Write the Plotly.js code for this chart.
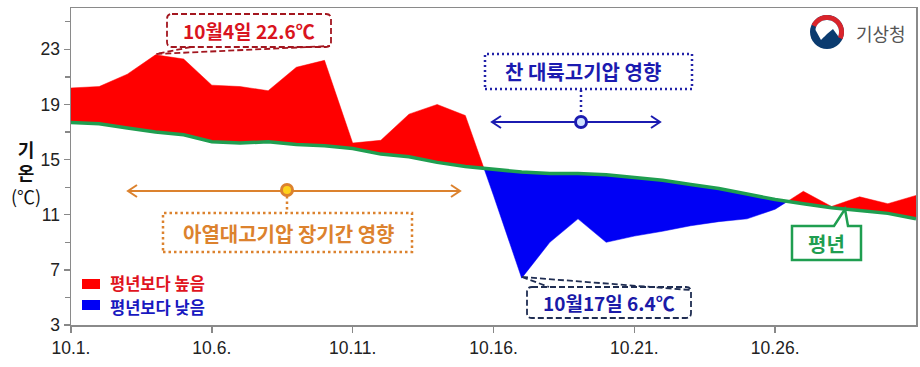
<!DOCTYPE html>
<html><head><meta charset="utf-8">
<script src="https://cdn.plot.ly/plotly-3.0.1.min.js"></script>
<style>html,body{margin:0;padding:0;background:#fff}</style>
</head><body><div id="chart" style="width:920px;height:367px"></div>
<script>
// ---- data ----
const days = [1,2,3,4,5,6,7,8,9,10,11,12,13,14,15,16,17,18,19,20,21,22,23,24,25,26,27,28,29,30,31];
const actualTemp = [20.2,20.3,21.2,22.6,22.3,20.4,20.3,20.0,21.7,22.2,16.2,16.4,18.3,19.0,18.2,12.4,6.4,9.0,10.7,9.0,9.45,9.8,10.2,10.5,10.7,11.4,12.7,11.6,12.3,11.8,12.4];
const normalTemp = [17.7,17.6,17.3,17.0,16.8,16.3,16.2,16.3,16.1,16.0,15.8,15.4,15.2,14.8,14.5,14.3,14.1,14.0,14.0,13.9,13.7,13.5,13.2,12.9,12.5,12.1,11.8,11.5,11.3,11.1,10.7];
const xTickVals = [1,6,11,16,21,26];
const xTickText = ['10.1.','10.6.','10.11.','10.16.','10.21.','10.26.'];
const yTickVals = [3,7,11,15,19,23];
const yMinorVals = [5,9,13,17,21,25];
const legendLabels = ['평년보다 높음','평년보다 낮음'];

// ---- fill split (insert crossing points so red/blue areas meet on the normal line) ----
function splitFill(xs, a, n){
  const X=[], up=[], lo=[], base=[];
  for(let i=0;i<xs.length;i++){
    if(i>0){
      const d0=a[i-1]-n[i-1], d1=a[i]-n[i];
      if(d0*d1<0){
        const t=d0/(d0-d1);
        const xc=xs[i-1]+t*(xs[i]-xs[i-1]);
        const yc=n[i-1]+t*(n[i]-n[i-1]);
        X.push(xc); up.push(yc); lo.push(yc); base.push(yc);
      }
    }
    X.push(xs[i]); up.push(Math.max(a[i],n[i])); lo.push(Math.min(a[i],n[i])); base.push(n[i]);
  }
  return {X,up,lo,base};
}
const f = splitFill(days, actualTemp, normalTemp);
const RED='#ff0000', BLUE='#0000f5', GREEN='#1f9e50';

const traces = [
  {x:f.X, y:f.base, mode:'lines', line:{width:0}, hoverinfo:'skip', showlegend:false},
  {x:f.X, y:f.up, mode:'lines', line:{width:0.5,color:RED}, fill:'tonexty', fillcolor:RED, hoverinfo:'skip', showlegend:false},
  {x:f.X, y:f.base, mode:'lines', line:{width:0}, hoverinfo:'skip', showlegend:false},
  {x:f.X, y:f.lo, mode:'lines', line:{width:0.5,color:BLUE}, fill:'tonexty', fillcolor:BLUE, hoverinfo:'skip', showlegend:false},
  {x:days, y:normalTemp, mode:'lines', line:{width:3.5,color:GREEN}, hoverinfo:'skip', showlegend:false}
];

// ---- pixel -> paper helpers (for decorations only) ----
const L=71, R=916, T=8, B=325;
const xp = px => (px-L)/(R-L);
const yp = py => 1-(py-T)/(B-T);
function pathPx(cmds){
  return cmds.map(c=>{
    const out=[c[0]];
    for(let i=1;i<c.length;i+=2){ out.push(xp(c[i]).toFixed(5)+','+yp(c[i+1]).toFixed(5)); }
    return out.join(' ');
  }).join(' ');
}
function roundRect(x0,y0,x1,y1,r){
  return pathPx([['M',x0+r,y0],['L',x1-r,y0],['Q',x1,y0,x1,y0+r],['L',x1,y1-r],['Q',x1,y1,x1-r,y1],
    ['L',x0+r,y1],['Q',x0,y1,x0,y1-r],['L',x0,y0+r],['Q',x0,y0,x0+r,y0]])+' Z';
}
function arcPts(cx,cy,r,a0,a1,n){
  const pts=[];
  for(let i=0;i<=n;i++){ const a=(a0+(a1-a0)*i/n)*Math.PI/180; pts.push([cx+r*Math.cos(a), cy+r*Math.sin(a)]); }
  return pts;
}
function polyPath(pts){ return pathPx(pts.map((p,i)=>[i?'L':'M',p[0],p[1]]))+' Z'; }
const P = (path, color, width, dash, fill) => ({type:'path', xref:'paper', yref:'paper', path, line:{color, width, dash:dash||'solid'}, fillcolor:fill||'rgba(0,0,0,0)', layer:'above'});
const rect = (x0,y0,x1,y1,color,width,dash,fill) => ({type:'rect', xref:'paper', yref:'paper', x0:xp(x0), x1:xp(x1), y0:yp(y1), y1:yp(y0), line:{color,width,dash:dash||'solid'}, fillcolor:fill||'rgba(0,0,0,0)', layer:'above'});
const circ = (cx,cy,r,color,width,fill) => ({type:'circle', xref:'paper', yref:'paper', x0:xp(cx-r), x1:xp(cx+r), y0:yp(cy+r), y1:yp(cy-r), line:{color,width}, fillcolor:fill, layer:'above'});
const ann = (px,py,text,color,size,extra) => Object.assign({xref:'paper', yref:'paper', x:xp(px), y:yp(py), text, showarrow:false, xanchor:'center', yanchor:'middle', font:{family:'Noto Sans CJK KR, sans-serif', size, color}}, extra||{});

// logo geometry
const LX=827, LY=32;
const redRing = arcPts(LX,LY,17,-155,25,30).concat(arcPts(LX,LY,12,25,-155,30));
function sCurve(){
  const pts=[]; const ctrl=[[11,4],[6,-3],[0,2],[-6,8],[-11.5,-2]];
  for(let i=0;i<=20;i++){ const k=i/20*4; const j=Math.min(3,Math.floor(k)); const u=k-j;
    const a=ctrl[j], b=ctrl[j+1]; pts.push([LX+a[0]+(b[0]-a[0])*u, LY+a[1]+(b[1]-a[1])*u]); }
  return pts;
}
const whiteTop = arcPts(LX,LY,12,-160,22,30).concat(sCurve());

const ORANGE='#dc822e', NAVYB='#1b1bb0';
const shapes = [
  P(roundRect(167,14,331,47,5), '#a3161f', 1.8, '6px,3px', '#ffffff'),
  P(pathPx([['M',191,47],['L',156,54],['L',330,46]]), '#a3161f', 1.8, '6px,3px'),
  rect(485,54,692,89, '#2222a8', 2.5, '2px,3px', '#ffffff'),
  P(pathPx([['M',581,90],['L',581,115]]), '#2222a8', 2.5, '2px,3px'),
  P(pathPx([['M',492,122],['L',660,122]]), NAVYB, 2),
  P(pathPx([['M',501,116],['L',492,122],['L',501,128]]), NAVYB, 2),
  P(pathPx([['M',651,116],['L',660,122],['L',651,128]]), NAVYB, 2),
  circ(581,122,5.5, NAVYB, 3, '#cfe2ff'),
  rect(163,213,412,252, ORANGE, 2.5, '2.5px,3px', '#ffffff'),
  P(pathPx([['M',287,196],['L',287,213]]), ORANGE, 2.5, '2.5px,3px'),
  P(pathPx([['M',128,191],['L',460,191]]), ORANGE, 2),
  P(pathPx([['M',137,185],['L',128,191],['L',137,197]]), ORANGE, 2),
  P(pathPx([['M',451,185],['L',460,191],['L',451,197]]), ORANGE, 2),
  circ(287,190,5.5, ORANGE, 3, '#ffd21a'),
  P(roundRect(527,287,691,318,5), '#1f2d52', 1.8, '6px,3px', '#ffffff'),
  P(pathPx([['M',522,277],['L',549,287]]), '#1f2d52', 1.8, '6px,3px'),
  P(pathPx([['M',522,277],['L',690,290]]), '#1f2d52', 1.8, '6px,3px'),
  P(pathPx([['M',792,226],['L',834,226],['L',845,209],['L',848,226],['L',861,226],['L',861,260],['L',792,260]])+' Z', GREEN, 2.5, 'solid', '#ffffff'),
  rect(82,279,100,289, RED, 0, 'solid', RED),
  rect(82,300,100,310, BLUE, 0, 'solid', BLUE),
  circ(LX,LY,17, '#0b3b6f', 0, '#0b3b6f'),
  P(polyPath(redRing), '#d9242b', 0, 'solid', '#d9242b'),
  P(polyPath(whiteTop), '#ffffff', 0, 'solid', '#ffffff')
];

const annotations = [
  ann(249,31,'<b>10월4일 22.6℃</b>','#d9141e',19),
  ann(583,72,'<b>찬 대륙고기압 영향</b>',NAVYB,20),
  ann(288,233,'<b>아열대고기압 장기간 영향</b>',ORANGE,20),
  ann(609,302,'<b>10월17일 6.4℃</b>','#1a1aa8',19),
  ann(826,243,'<b>평년</b>',GREEN,20),
  ann(108,283,'<b>'+legendLabels[0]+'</b>','#e0141e',16.5,{xanchor:'left'}),
  ann(108,306.5,'<b>'+legendLabels[1]+'</b>','#1818c0',16.5,{xanchor:'left'}),
  ann(26,172,'<b>기<br>온</b><br>(℃)','#111',18),
  ann(881,33,'기상청','#555',18)
];

const layout = {
  width:920, height:367,
  margin:{l:L, r:920-R, t:T, b:367-B},
  paper_bgcolor:'#ffffff', plot_bgcolor:'#ffffff',
  showlegend:false,
  font:{family:'Liberation Sans, Arial, sans-serif', size:17, color:'#222'},
  xaxis:{range:[1,31], tickmode:'array', tickvals:xTickVals, ticktext:xTickText,
    ticks:'outside', ticklen:6, tickwidth:1.5, tickcolor:'#888', showline:true, linecolor:'#8a8a8a', linewidth:1.5,
    mirror:true, showgrid:false, zeroline:false, tickfont:{size:17.5, color:'#222'}},
  yaxis:{range:[3,26], tickmode:'array', tickvals:yTickVals, ticks:'outside', ticklen:6, tickwidth:1.5, tickcolor:'#888',
    minor:{tickmode:'array', tickvals:yMinorVals, ticks:'outside', ticklen:5, tickwidth:1.2, tickcolor:'#888', showgrid:false},
    showline:true, linecolor:'#8a8a8a', linewidth:1.5, mirror:true, showgrid:false, zeroline:false, tickfont:{size:17.5, color:'#222'}},
  shapes, annotations
};
Plotly.newPlot('chart', traces, layout, {displayModeBar:false, staticPlot:true});
</script></body></html>
